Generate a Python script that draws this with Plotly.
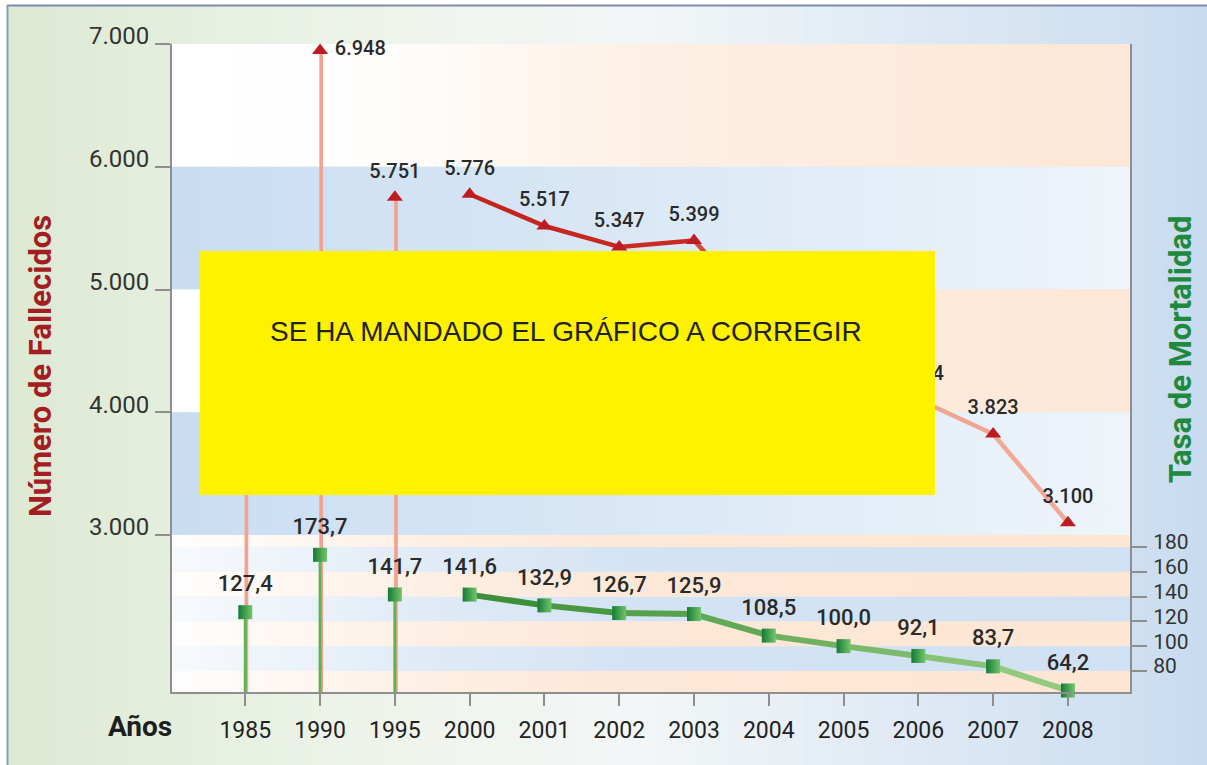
import plotly.graph_objects as go

# ---------------- data ----------------
years = ["1985", "1990", "1995", "2000", "2001", "2002", "2003",
         "2004", "2005", "2006", "2007", "2008"]
deaths = [4903, 6948, 5751, 5776, 5517, 5347, 5399, 4741, 4442, 4104, 3823, 3100]
rates = [127.4, 173.7, 141.7, 141.6, 132.9, 126.7, 125.9, 108.5, 100.0, 92.1, 83.7, 64.2]
n_stems = 3                      # 1985, 1990, 1995 drawn as stems
left_ticks = [3000, 4000, 5000, 6000, 7000]
right_ticks = [80, 100, 120, 140, 160, 180]
death_labels_pos = ["top center", "middle right", "top center"] + ["top center"] * 9

# ---------------- layout geometry ----------------
W, H = 1207, 765
ML, MR, MT, MB = 172, 77, 44, 73
PW, PH = W - ML - MR, H - MT - MB
XR = [-0.98, 11.83]
LR = [1721, 7000]
RR = [63, 585.9]

xpos = list(range(len(years)))


def px(xp):
    return (xp - ML) / PW


def py(yp):
    return (H - MB - yp) / PH


def hex2rgb(h):
    h = h.lstrip("#")
    return tuple(int(h[i:i + 2], 16) for i in (0, 2, 4))


def lerp(c0, c1, t):
    a, b = hex2rgb(c0), hex2rgb(c1)
    return "rgb(%d,%d,%d)" % tuple(round(a[i] + (b[i] - a[i]) * t) for i in range(3))


def multi(stops, t):
    for (t0, c0), (t1, c1) in zip(stops[:-1], stops[1:]):
        if t <= t1:
            return lerp(c0, c1, (t - t0) / (t1 - t0) if t1 > t0 else 0)
    return stops[-1][1]


def r2l(r):
    return LR[0] + (r - RR[0]) / (RR[1] - RR[0]) * (LR[1] - LR[0])


fig = go.Figure()

# ---------------- background bands (plot area) ----------------
peach_up = [[0, "#ffffff"], [0.22, "#fffefd"], [0.5, "#fdefe4"], [1, "#fde7d6"]]
blue_up = [[0, "#c9ddf2"], [0.45, "#d9e7f5"], [1, "#eef4fa"]]
peach_lo = [[0, "#fefefe"], [0.28, "#fdeee3"], [0.5, "#fde7d6"], [1, "#fde6d4"]]
blue_lo = [[0, "#f7fafd"], [0.28, "#dfeaf6"], [0.5, "#d3e3f4"], [1, "#d0e1f3"]]


def band(lo, hi, scale):
    fig.add_trace(go.Scatter(
        x=[XR[0], XR[1], XR[1], XR[0], XR[0]], y=[lo, lo, hi, hi, lo],
        mode="lines", line=dict(width=0), fill="toself",
        fillgradient=dict(type="horizontal", colorscale=scale),
        hoverinfo="skip", showlegend=False, yaxis="y"))


band(6000, 7000, peach_up)
band(5000, 6000, blue_up)
band(4000, 5000, peach_up)
band(3000, 4000, blue_up)
band(r2l(right_ticks[-1]), 3000, peach_lo)
lo_edges = [RR[0]] + right_ticks
for i in range(len(lo_edges) - 1):
    sc = peach_lo if i % 2 == 0 else blue_lo
    band(r2l(lo_edges[i]), r2l(lo_edges[i + 1]), sc)

# ---------------- deaths (y2, same scale as left axis) ----------------
fig.add_trace(go.Bar(x=xpos[:n_stems], y=deaths[:n_stems], width=0.05, offset=-0.01,
                     marker=dict(color="#f2a390", line=dict(width=0)),
                     hoverinfo="skip", showlegend=False, yaxis="y2"))
seg_cols_d = ["#c4241d", "#c6271f", "#c92b22", "#d24a3b", "#df7260", "#ea9682", "#f0a592", "#f2aa97"]
for k in range(n_stems, len(years) - 1):
    fig.add_trace(go.Scatter(x=xpos[k:k + 2], y=deaths[k:k + 2], mode="lines",
                             line=dict(color=seg_cols_d[k - n_stems], width=4.5),
                             hoverinfo="skip", showlegend=False, yaxis="y2"))
fig.add_trace(go.Scatter(x=xpos, y=deaths, mode="markers", cliponaxis=False,
                         marker=dict(symbol="triangle-up", size=14, color="#bf1b22"),
                         hoverinfo="skip", showlegend=False, yaxis="y2"))
fig.add_trace(go.Scatter(x=xpos, y=deaths, mode="markers+text", cliponaxis=False,
                         marker=dict(size=22, opacity=0),
                         texttemplate="%{y:,.0f}", textposition=death_labels_pos,
                         textfont=dict(family="Roboto", size=20, color="#2a2a2a", weight=500),
                         hoverinfo="skip", showlegend=False, yaxis="y2"))

# ---------------- mortality rate (y3, right axis) ----------------
fig.add_trace(go.Bar(x=xpos[:n_stems], y=rates[:n_stems], width=0.04, offset=-0.02,
                     marker=dict(color="#5fb352", line=dict(width=0)),
                     hoverinfo="skip", showlegend=False, yaxis="y3"))
nseg = len(years) - 1 - n_stems
for k in range(n_stems, len(years) - 1):
    t = (k - n_stems) / max(nseg - 1, 1)
    fig.add_trace(go.Scatter(x=xpos[k:k + 2], y=rates[k:k + 2], mode="lines",
                             line=dict(color=lerp("#3e9038", "#93ca7f", t), width=6),
                             hoverinfo="skip", showlegend=False, yaxis="y3"))
fig.add_trace(go.Scatter(x=xpos, y=rates, mode="markers", cliponaxis=False,
                         marker=dict(symbol="square", size=14, color="#157a35",
                                     gradient=dict(type="horizontal", color="#72c66c")),
                         hoverinfo="skip", showlegend=False, yaxis="y3"))
fig.add_trace(go.Scatter(x=xpos, y=rates, mode="markers+text", cliponaxis=False,
                         marker=dict(size=23, opacity=0),
                         texttemplate="%{y:.1f}", textposition="top center",
                         textfont=dict(family="Roboto", size=22, color="#2a2a2a", weight=500),
                         hoverinfo="skip", showlegend=False, yaxis="y3"))

# ---------------- shapes ----------------
shapes = []
bg_stops = [(0.0, "#dde9d3"), (0.13, "#e4eedd"), (0.33, "#eff4ec"), (0.53, "#f3f6f7"),
            (0.75, "#dfe9f4"), (0.93, "#cfe0f1"), (1.0, "#c8dbef")]
x_start, x_end = 8, W
nsl = 80
for i in range(nsl):
    a = x_start + (x_end - x_start) * i / nsl
    b = x_start + (x_end - x_start) * (i + 1) / nsl + 0.6
    col = multi(bg_stops, (i + 0.5) / nsl)
    shapes.append(dict(type="rect", xref="paper", yref="paper", layer="below",
                       x0=px(a), x1=px(b), y0=py(H), y1=py(6),
                       fillcolor=col, line=dict(width=0)))
shapes.append(dict(type="line", xref="paper", yref="paper", layer="above",
                   x0=px(7), x1=px(W), y0=py(5.5), y1=py(5.5),
                   line=dict(color="#7d8cab", width=2)))
shapes.append(dict(type="line", xref="paper", yref="paper", layer="above",
                   x0=px(7.5), x1=px(7.5), y0=py(5), y1=py(H),
                   line=dict(color="#8a9bb9", width=2)))
shapes.append(dict(type="rect", xref="paper", yref="paper", layer="above",
                   x0=px(200), x1=px(935), y0=py(495), y1=py(251),
                   fillcolor="#fff200", line=dict(width=0)))

annotations = [
    dict(text="Número de Fallecidos", xref="paper", yref="paper", x=px(40), y=py(366),
         xanchor="center", yanchor="middle", textangle=-90, showarrow=False,
         font=dict(family="Roboto", size=31, color="#a31d22", weight="bold")),
    dict(text="Tasa de Mortalidad", xref="paper", yref="paper", x=px(1180), y=py(350),
         xanchor="center", yanchor="middle", textangle=-90, showarrow=False,
         font=dict(family="Roboto", size=31, color="#1f8a3e", weight="bold")),
    dict(text="Años", xref="paper", yref="paper", x=px(140), y=py(727),
         xanchor="center", yanchor="middle", showarrow=False,
         font=dict(family="Roboto", size=28, color="#1e1e1e", weight="bold")),
    dict(text="SE HA MANDADO EL GRÁFICO A CORREGIR", xref="paper", yref="paper",
         x=px(566), y=py(331), xanchor="center", yanchor="middle", showarrow=False,
         font=dict(family="Liberation Sans, Arial", size=28, color="#222222")),
]

axis_gray = "#8e8e8e"
fig.update_layout(
    width=W, height=H,
    margin=dict(l=ML, r=MR, t=MT, b=MB, pad=0),
    paper_bgcolor="#ffffff", plot_bgcolor="#ffffff",
    separators=",.",
    barmode="overlay",
    showlegend=False,
    shapes=shapes, annotations=annotations,
    font=dict(family="Roboto", color="#2a2a2a"),
    xaxis=dict(range=XR, tickvals=xpos, ticktext=years, showgrid=False, zeroline=False,
               showline=True, linecolor=axis_gray, linewidth=2,
               ticks="outside", ticklen=12, tickwidth=1.5, tickcolor=axis_gray,
               tickfont=dict(family="Roboto", size=23, color="#222222"),
               ticklabelstandoff=4),
    yaxis=dict(range=LR, tickvals=left_ticks, tickformat=",d", showgrid=False, zeroline=False,
               showline=True, linecolor=axis_gray, linewidth=2,
               ticks="outside", ticklen=15, tickwidth=1.5, tickcolor=axis_gray,
               ticklabelshift=-8, ticklabelstandoff=1,
               tickfont=dict(family="Roboto", size=24, color="#333333")),
    yaxis2=dict(range=LR, overlaying="y", visible=False),
    yaxis3=dict(range=RR, overlaying="y", side="right", tickvals=right_ticks,
                showgrid=False, zeroline=False,
                showline=True, linecolor=axis_gray, linewidth=2,
                ticks="outside", ticklen=15, tickwidth=1.5, tickcolor=axis_gray,
                ticklabelshift=-5, ticklabelstandoff=2,
                tickfont=dict(family="Roboto", size=21, color="#333333")),
)

fig.write_html("out.html", config=dict(displayModeBar=False),
               post_script="document.body.style.margin='0';document.body.style.overflow='hidden';")
